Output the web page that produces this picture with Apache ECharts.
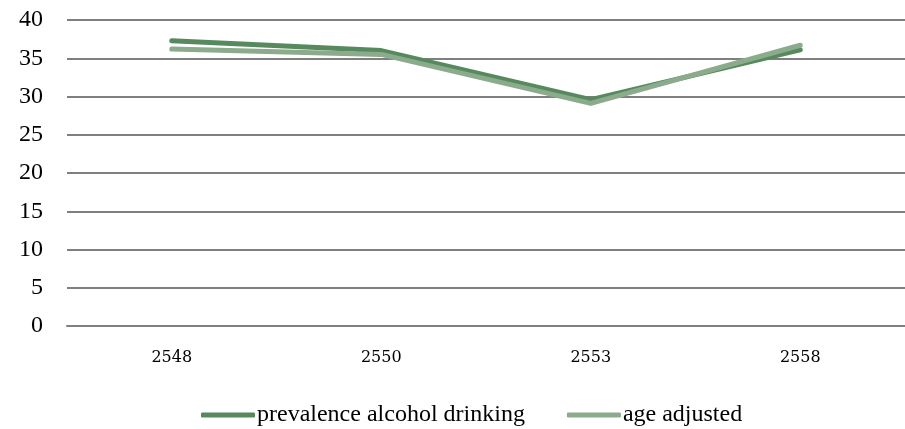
<!DOCTYPE html>
<html><head><meta charset="utf-8">
<script src="https://cdn.jsdelivr.net/npm/echarts@6/dist/echarts.min.js"></script>
<style>html,body{margin:0;padding:0;background:#fff}#c{width:905px;height:429px}</style>
</head><body><div id="c"></div>
<script>
const categories = ['2548', '2550', '2553', '2558'];
const prevalence = [37.3, 36.0, 29.6, 36.1];
const ageAdjusted = [36.2, 35.5, 29.1, 36.7];
const yTicks = [0, 5, 10, 15, 20, 25, 30, 35, 40];

const chart = echarts.init(document.getElementById('c'), null, {renderer: 'canvas'});
chart.setOption({
  animation: false,
  backgroundColor: '#fff',
  grid: {left: 67, right: 0, top: 20, bottom: 103},
  legend: {
    top: 403, left: 201, padding: 0,
    itemWidth: 54, itemHeight: 5, itemGap: 42,
    icon: 'roundRect',
    textStyle: {fontFamily: 'Liberation Serif', fontSize: 24, color: '#000', padding: [0,0,0,-3]},
    data: ['prevalence alcohol drinking', 'age adjusted']
  },
  xAxis: {
    type: 'category', data: categories, boundaryGap: true,
    axisTick: {show: false},
    axisLine: {lineStyle: {color: '#7f7f7f', width: 2}},
    axisLabel: {fontFamily: 'DejaVu Serif', fontSize: 16, color: '#000', margin: 24}
  },
  yAxis: {
    type: 'value', min: yTicks[0], max: yTicks[yTicks.length-1], interval: 5,
    axisLine: {show: false}, axisTick: {show: false},
    axisLabel: {fontFamily: 'Liberation Serif', fontSize: 24, color: '#000', margin: 24},
    splitLine: {lineStyle: {color: '#7f7f7f', width: 2}}
  },
  series: [
    {name: 'prevalence alcohol drinking', type: 'line', data: prevalence, symbol: 'none',
     color: '#568a5e', lineStyle: {width: 5, color: '#568a5e', cap: 'round', join: 'round'}},
    {name: 'age adjusted', type: 'line', data: ageAdjusted, symbol: 'none',
     color: '#8caa8c', lineStyle: {width: 5, color: '#8caa8c', cap: 'round', join: 'round'}}
  ]
});
</script></body></html>
